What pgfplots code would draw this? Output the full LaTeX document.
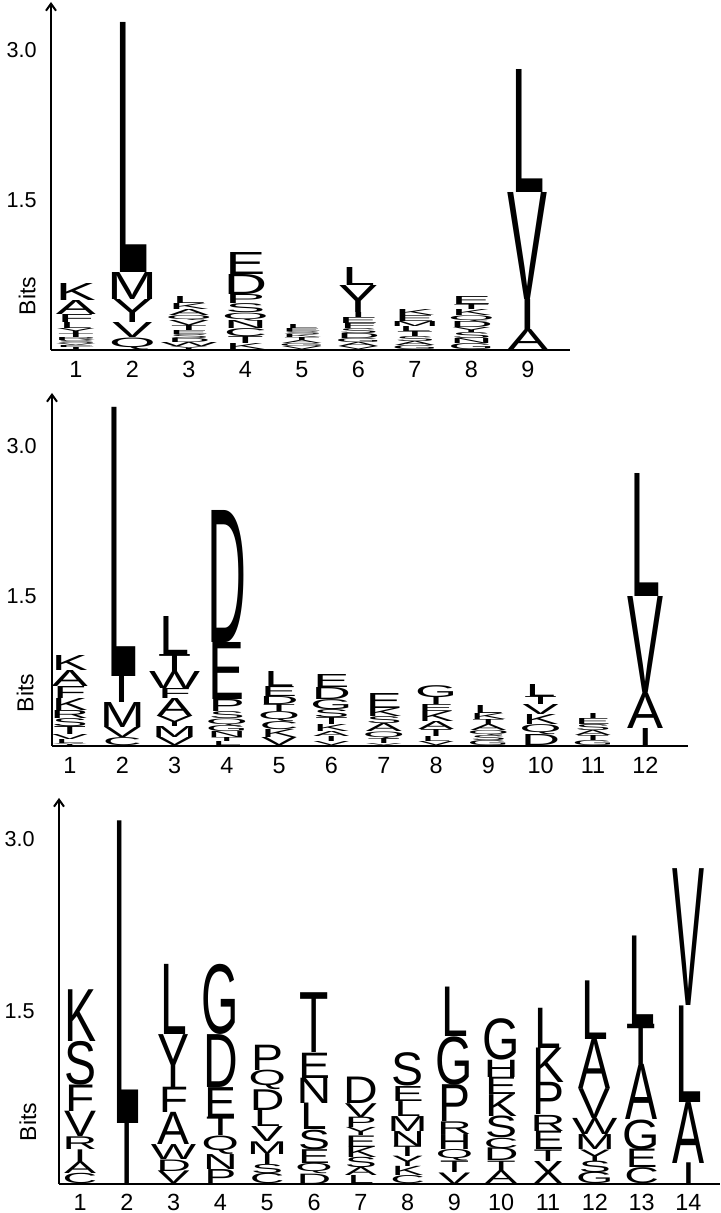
\documentclass[border=0pt]{standalone}
\usepackage{fontspec}
\setmainfont{Liberation Sans}
\newfontfamily\logofont{Liberation Sans}
\usepackage{graphicx}
\usepackage{pgfplots}
\usepackage{pgfplotstable}
\pgfplotsset{compat=1.18}
\usetikzlibrary{arrows.meta}

% one row per letter: column, base of letter (bits), letter:height (bits)
\pgfplotstableread{
x y m
1 0.00 I:0.02
1 0.02 E:0.02
1 0.04 V:0.02
1 0.06 S:0.03
1 0.09 R:0.03
1 0.12 T:0.04
1 0.16 Y:0.05
1 0.21 L:0.06
1 0.27 F:0.08
1 0.35 A:0.14
1 0.49 K:0.17
2 0.00 Q:0.12
2 0.12 V:0.15
2 0.27 Y:0.23
2 0.50 M:0.27
2 0.77 L:2.50
3 0.00 Y:0.03
3 0.03 W:0.04
3 0.07 D:0.04
3 0.11 S:0.04
3 0.15 E:0.04
3 0.19 T:0.05
3 0.24 V:0.05
3 0.29 Q:0.05
3 0.34 A:0.06
3 0.40 K:0.06
3 0.46 L:0.07
4 0.00 K:0.06
4 0.06 T:0.07
4 0.13 C:0.08
4 0.21 N:0.08
4 0.29 Q:0.08
4 0.37 S:0.09
4 0.46 P:0.09
4 0.55 D:0.20
4 0.75 E:0.22
5 0.00 V:0.03
5 0.03 G:0.03
5 0.06 A:0.03
5 0.09 T:0.03
5 0.12 K:0.03
5 0.15 S:0.03
5 0.18 E:0.03
5 0.21 L:0.04
6 0.00 V:0.03
6 0.03 A:0.04
6 0.07 G:0.04
6 0.11 D:0.05
6 0.16 S:0.05
6 0.21 F:0.05
6 0.26 E:0.06
6 0.32 I:0.05
6 0.37 Y:0.27
6 0.64 L:0.18
7 0.00 G:0.04
7 0.04 A:0.04
7 0.08 S:0.05
7 0.13 T:0.05
7 0.18 L:0.05
7 0.23 M:0.05
7 0.28 E:0.06
7 0.34 K:0.06
8 0.00 G:0.06
8 0.06 N:0.05
8 0.11 S:0.06
8 0.17 Y:0.05
8 0.22 D:0.06
8 0.28 Q:0.06
8 0.34 K:0.06
8 0.40 T:0.05
8 0.45 E:0.08
9 0.00 A:0.20
9 0.20 I:0.30
9 0.50 V:1.07
9 1.57 L:1.23
}\logoA

\pgfplotstableread{
x y m
1 0.00 Y:0.02
1 0.02 L:0.04
1 0.06 V:0.05
1 0.11 T:0.08
1 0.19 S:0.08
1 0.27 R:0.08
1 0.35 K:0.12
1 0.47 F:0.12
1 0.59 A:0.16
1 0.75 K:0.15
2 0.00 C:0.08
2 0.08 V:0.10
2 0.18 M:0.25
2 0.43 I:0.26
2 0.69 L:2.69
3 0.00 V:0.08
3 0.08 M:0.11
3 0.19 Y:0.10
3 0.29 A:0.18
3 0.47 F:0.10
3 0.57 W:0.17
3 0.74 T:0.17
3 0.91 L:0.38
4 0.00 L:0.04
4 0.04 T:0.04
4 0.08 N:0.06
4 0.14 G:0.06
4 0.20 Q:0.07
4 0.27 S:0.07
4 0.34 P:0.12
4 0.46 E:0.57
4 1.03 D:1.32
5 0.00 V:0.08
5 0.08 K:0.08
5 0.16 C:0.08
5 0.24 Q:0.10
5 0.34 T:0.07
5 0.41 D:0.08
5 0.49 E:0.10
5 0.59 L:0.15
6 0.00 V:0.04
6 0.04 I:0.05
6 0.09 A:0.05
6 0.14 K:0.07
6 0.21 T:0.07
6 0.28 S:0.08
6 0.36 G:0.10
6 0.46 D:0.12
6 0.58 E:0.13
7 0.00 V:0.02
7 0.02 T:0.05
7 0.07 Q:0.07
7 0.14 A:0.08
7 0.22 S:0.07
7 0.29 K:0.08
7 0.37 E:0.15
8 0.00 V:0.04
8 0.04 L:0.05
8 0.09 T:0.07
8 0.16 A:0.08
8 0.24 K:0.10
8 0.34 E:0.07
8 0.41 I:0.07
8 0.48 G:0.12
9 0.00 G:0.05
9 0.05 S:0.05
9 0.10 Q:0.05
9 0.15 A:0.06
9 0.21 T:0.05
9 0.26 K:0.06
9 0.32 L:0.08
10 0.00 D:0.11
10 0.11 Q:0.10
10 0.21 K:0.10
10 0.31 V:0.10
10 0.41 T:0.08
10 0.49 L:0.12
11 0.00 G:0.05
11 0.05 T:0.05
11 0.10 A:0.05
11 0.15 S:0.06
11 0.21 E:0.06
11 0.27 I:0.05
12 0.00 I:0.17
12 0.17 A:0.35
12 0.52 V:0.97
12 1.49 L:1.23
}\logoB

\pgfplotstableread{
x y m
1 0.00 C:0.09
1 0.09 A:0.10
1 0.19 I:0.11
1 0.30 R:0.11
1 0.41 V:0.22
1 0.63 F:0.23
1 0.86 S:0.38
1 1.24 K:0.45
2 0.00 I:0.53
2 0.53 L:2.63
3 0.00 V:0.11
3 0.11 D:0.10
3 0.21 W:0.13
3 0.34 A:0.28
3 0.62 F:0.22
3 0.84 Y:0.46
3 1.30 L:0.61
4 0.00 P:0.13
4 0.13 N:0.13
4 0.26 Q:0.16
4 0.42 T:0.16
4 0.58 E:0.26
4 0.84 D:0.46
4 1.30 G:0.61
5 0.00 C:0.09
5 0.09 S:0.08
5 0.17 I:0.09
5 0.26 M:0.11
5 0.37 V:0.13
5 0.50 L:0.14
5 0.64 D:0.18
5 0.82 Q:0.17
5 0.99 P:0.22
6 0.00 D:0.09
6 0.09 Q:0.09
6 0.18 E:0.12
6 0.30 S:0.17
6 0.47 L:0.23
6 0.70 N:0.22
6 0.92 E:0.22
6 1.14 T:0.52
7 0.00 L:0.07
7 0.07 A:0.07
7 0.14 S:0.09
7 0.23 K:0.09
7 0.32 E:0.10
7 0.42 Y:0.07
7 0.49 P:0.09
7 0.58 V:0.12
7 0.70 D:0.23
8 0.00 C:0.07
8 0.07 K:0.08
8 0.15 Y:0.09
8 0.24 T:0.09
8 0.33 N:0.13
8 0.46 M:0.13
8 0.59 L:0.13
8 0.72 E:0.13
8 0.85 S:0.29
9 0.00 V:0.10
9 0.10 T:0.10
9 0.20 Q:0.10
9 0.30 H:0.13
9 0.43 R:0.11
9 0.54 P:0.32
9 0.86 G:0.42
9 1.28 L:0.43
10 0.00 A:0.11
10 0.11 T:0.09
10 0.20 D:0.11
10 0.31 C:0.09
10 0.40 S:0.19
10 0.59 K:0.19
10 0.78 E:0.15
10 0.93 H:0.15
10 1.08 G:0.36
11 0.00 X:0.20
11 0.20 T:0.10
11 0.30 E:0.16
11 0.46 R:0.14
11 0.60 P:0.28
11 0.88 K:0.30
11 1.18 L:0.35
12 0.00 G:0.10
12 0.10 S:0.10
12 0.20 Y:0.10
12 0.30 M:0.13
12 0.43 W:0.14
12 0.57 V:0.26
12 0.83 A:0.43
12 1.26 L:0.51
13 0.00 C:0.14
13 0.14 E:0.16
13 0.30 G:0.26
13 0.56 A:0.48
13 1.04 T:0.35
13 1.39 L:0.77
14 0.00 I:0.18
14 0.18 A:0.53
14 0.71 L:0.84
14 1.55 V:1.19
}\logoC

\newdimen\bitlen
\newdimen\lgtmp
\newsavebox\lgbox
\def\logosize{30}
% stretch one letter vertically to #2 bits, keeping its own width
\def\logosplit#1:#2\relax{%
  \sbox\lgbox{\logofont\fontsize{\logosize}{\logosize}\selectfont #1}%
  \lgtmp=#2\bitlen
  \resizebox*{\wd\lgbox}{\lgtmp}{\usebox\lgbox}}
\def\logoletter{\edef\lgmeta{\pgfplotspointmeta}\expandafter\logosplit\lgmeta\relax}

\pgfplotsset{
  logo axis/.style={
    anchor=south west,
    axis lines=left,
    axis line style={line width=1pt},
    x axis line style={-},
    y axis line style={-{Straight Barb[length=3.5pt,width=5pt]}},
    major tick length=0pt,
    ymin=0,
    ytick={1.5,3.0}, yticklabels={1.5,3.0},
    yticklabel style={font=\fontsize{10.8}{12}\selectfont, anchor=east, inner sep=0pt},
    xticklabel style={font=\fontsize{11.7}{13}\selectfont, anchor=base, inner sep=0pt, yshift=-14pt},
    ylabel={Bits},
    ylabel style={font=\fontsize{11.5}{13}\selectfont, anchor=center},
    clip=false,
  },
  logo/.style={
    only marks, mark=none,
    point meta=explicit symbolic,
    nodes near coords={\logoletter},
    nodes near coords style={anchor=south, inner sep=0pt, outer sep=0pt},
  },
}

\begin{document}
\begin{tikzpicture}

\def\logosize{30}\bitlen=50pt
\begin{axis}[logo axis, at={(25.5pt,431.5pt)},
  x=28.25pt, y=50pt, xmin=0.558, xmax=9.744, ymax=3.48,
  xtick={1,...,9}, xticklabels={1,2,3,4,5,6,7,8,9},
  yticklabel style={xshift=-7pt},
  ylabel style={at={(axis description cs:-0.046,0.155)}}]
\addplot[logo] table[x=x, y=y, meta=m] {\logoA};
\end{axis}

\def\logosize{27}\bitlen=50pt
\begin{axis}[logo axis, at={(26pt,233.5pt)},
  x=26.15pt, y=50pt, xmin=0.656, xmax=12.82, ymax=3.53,
  xtick={1,...,12}, xticklabels={1,2,3,4,5,6,7,8,9,10,11,12},
  yticklabel style={xshift=-7.5pt},
  ylabel style={at={(axis description cs:-0.042,0.150)}}]
\addplot[logo] table[x=x, y=y, meta=m] {\logoB};
\end{axis}

\def\logosize{24}\bitlen=57.5pt
\begin{axis}[logo axis, at={(29.5pt,14.5pt)},
  x=23.4pt, y=57.5pt, xmin=0.551, xmax=14.67, ymax=3.357,
  xtick={1,...,14}, xticklabels={1,2,3,4,5,6,7,8,9,10,11,12,13,14},
  xticklabel style={yshift=0.6pt},
  yticklabel style={xshift=-12pt},
  ylabel style={at={(axis description cs:-0.047,0.161)}}]
\addplot[logo] table[x=x, y=y, meta=m] {\logoC};
\end{axis}

\pgfresetboundingbox
\useasboundingbox (0,0) rectangle (360pt,606.5pt);
\end{tikzpicture}
\end{document}
